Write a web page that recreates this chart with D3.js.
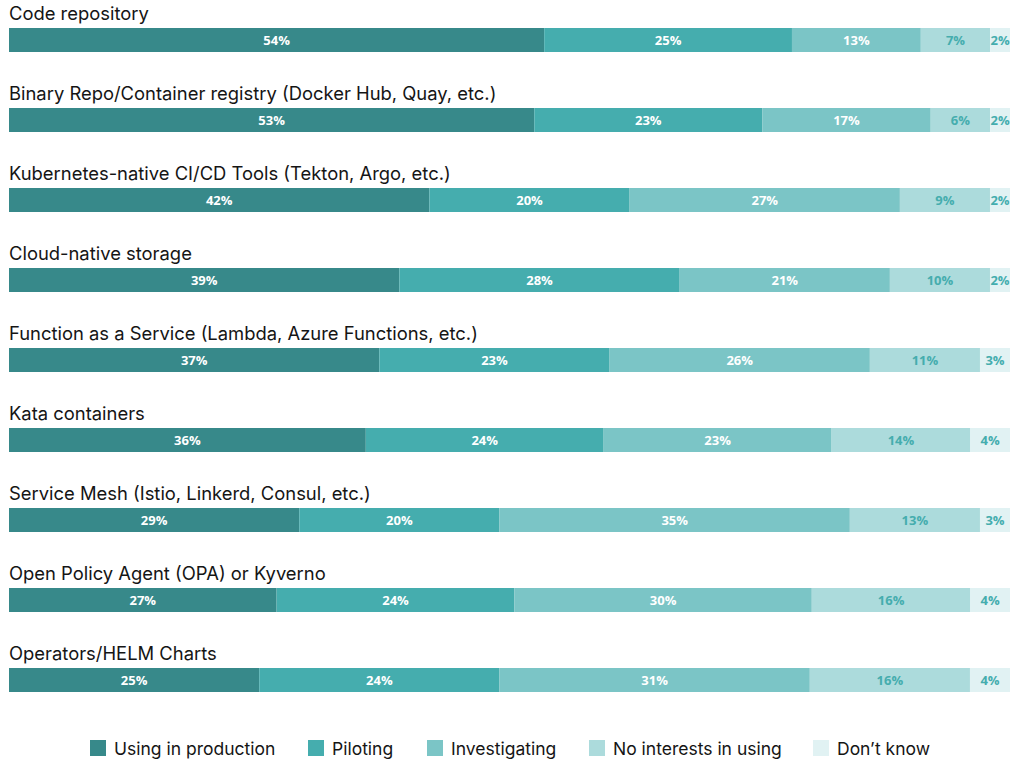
<!DOCTYPE html>
<html>
<head>
    <title>Cloud-native tooling adoption</title>
    <script src="https://cdnjs.cloudflare.com/ajax/libs/d3/7.8.5/d3.min.js"></script>
    <style>
        body { margin: 0; background: #fff; }
        .row-title { font-family: Inter, "Open Sans", sans-serif; font-size: 18.4px; fill: #151515; }
        .seg-label { font-family: "Open Sans", sans-serif; font-size: 13px; font-weight: 700; }
        .legend text { font-family: Inter, "Open Sans", sans-serif; font-size: 17.5px; fill: #151515; }
    </style>
</head>
<body>
<div id="chart"></div>
<script>
const categories = [
    "Code repository",
    "Binary Repo/Container registry (Docker Hub, Quay, etc.)",
    "Kubernetes-native CI/CD Tools (Tekton, Argo, etc.)",
    "Cloud-native storage",
    "Function as a Service (Lambda, Azure Functions, etc.)",
    "Kata containers",
    "Service Mesh (Istio, Linkerd, Consul, etc.)",
    "Open Policy Agent (OPA) or Kyverno",
    "Operators/HELM Charts"
];
const seriesNames = ["Using in production", "Piloting", "Investigating", "No interests in using", "Don\u2019t know"];
const production = [54, 53, 42, 39, 37, 36, 29, 27, 25];
const piloting = [25, 23, 20, 28, 23, 24, 20, 24, 24];
const investigating = [13, 17, 27, 21, 26, 23, 35, 30, 31];
const noInterest = [7, 6, 9, 10, 11, 14, 13, 16, 16];
const dontKnow = [2, 2, 2, 2, 3, 4, 3, 4, 4];
const colors = ["#37898a", "#45adae", "#7bc5c6", "#acdbdc", "#e1f2f3"];
const labelColors = ["#fff", "#fff", "#fff", "#45adae", "#45adae"];

const W = 1023, H = 763;
const svg = d3.select('#chart').append('svg').attr('width', W).attr('height', H);

const series = [production, piloting, investigating, noInterest, dontKnow];
const rows = categories.map((c, i) => {
    const vals = series.map(s => s[i]);
    const total = d3.sum(vals);
    let acc = 0;
    const segs = vals.map((v, k) => {
        const s = { k, v, x0: acc / total, x1: (acc + v) / total };
        acc += v;
        return s;
    });
    return { name: c, segs };
});

const x = d3.scaleLinear().domain([0, 1]).range([9, 1010]);
const y = d3.scaleBand().domain(categories).range([0, 720]).paddingInner(0);
const barTop = 28, barH = 24;

const row = svg.selectAll('g.row').data(rows).join('g')
    .attr('class', 'row')
    .attr('transform', d => `translate(0,${y(d.name)})`);

row.append('text')
    .attr('class', 'row-title')
    .attr('x', 9).attr('y', 20)
    .text(d => d.name);

row.selectAll('rect').data(d => d.segs).join('rect')
    .attr('x', d => x(d.x0))
    .attr('width', d => x(d.x1) - x(d.x0))
    .attr('y', barTop).attr('height', barH)
    .attr('fill', d => colors[d.k]);

row.selectAll('text.seg-label').data(d => d.segs).join('text')
    .attr('class', 'seg-label')
    .attr('x', d => (x(d.x0) + x(d.x1)) / 2)
    .attr('y', barTop + barH / 2 + 4.5)
    .attr('text-anchor', 'middle')
    .attr('fill', d => labelColors[d.k])
    .text(d => d.v + '%');

// legend
const legendX = [90, 308, 427, 589, 813];
const legend = svg.append('g').attr('class', 'legend')
    .selectAll('g').data(seriesNames).join('g')
    .attr('transform', (d, i) => `translate(${legendX[i]},740)`);
legend.append('rect').attr('width', 16).attr('height', 16).attr('fill', (d, i) => colors[i]);
legend.append('text').attr('x', 24).attr('y', 15).text(d => d);
</script>
</body>
</html>
